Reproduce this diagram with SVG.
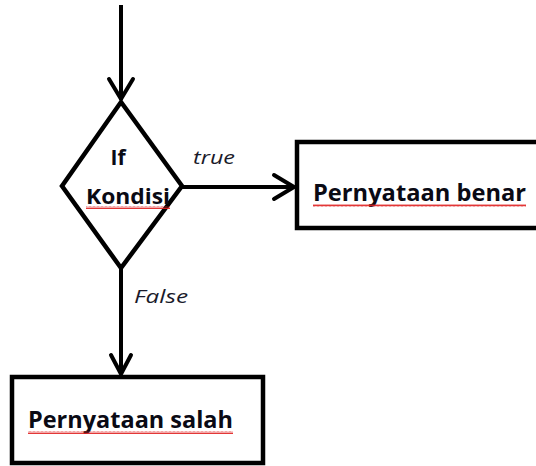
<svg xmlns="http://www.w3.org/2000/svg" width="536" height="466" viewBox="0 0 536 466">
<style>
.shape{fill:#fff;stroke:#000;stroke-width:4.5;stroke-linejoin:miter}
.line{fill:none;stroke:#000;stroke-width:4}
.head{fill:none;stroke:#000;stroke-width:4;stroke-linecap:round;stroke-linejoin:round}
.lbl{font-family:"Open Sans","Liberation Sans",sans-serif;font-weight:bold;fill:#0a0a14}
.it{font-family:"Open Sans","Liberation Sans",sans-serif;font-style:italic;fill:#1a1a2a}
</style>
<defs>
<pattern id="wv" width="4" height="3" patternUnits="userSpaceOnUse">
<path d="M0,2.5 L1,0.5 L2,2.5 L3,0.5 L4,2.5" fill="none" stroke="#e02020" stroke-width="0.9"/>
</pattern>
</defs>
<rect width="536" height="466" fill="#fff"/>
<g id="connectors">
<line class="line" x1="121" y1="5" x2="121" y2="100"/>
<polyline class="head" points="109,79 121,99 133,79"/>
<line class="line" x1="182" y1="187" x2="294" y2="187"/>
<polyline class="head" points="274,175 294,187 274,199"/>
<line class="line" x1="121" y1="269" x2="121" y2="374"/>
<polyline class="head" points="111,355 121,374 131,355"/>
<text class="it" x="193" y="164" font-size="19" textLength="42" lengthAdjust="spacingAndGlyphs">true</text>
<text class="it" x="134" y="303" font-size="19" textLength="54" lengthAdjust="spacingAndGlyphs">False</text>
</g>
<g id="decision">
<polygon class="shape" points="121,102 182,186 121,268 62,186"/>
<text class="lbl" x="118" y="165" font-size="21" text-anchor="middle">If</text>
<text class="lbl" x="86" y="204" font-size="21" textLength="84" lengthAdjust="spacingAndGlyphs">Kondisi</text>
<rect x="86" y="206" width="84" height="3" fill="url(#wv)"/>
</g>
<g id="true-box">
<rect class="shape" x="297" y="142" width="250" height="86"/>
<text class="lbl" x="313" y="201" font-size="23.5" textLength="213" lengthAdjust="spacingAndGlyphs">Pernyataan benar</text>
<rect x="313" y="204" width="213" height="3" fill="url(#wv)"/>
</g>
<g id="false-box">
<rect class="shape" x="12" y="377" width="251" height="86"/>
<text class="lbl" x="28" y="428" font-size="23.5" textLength="205" lengthAdjust="spacingAndGlyphs">Pernyataan salah</text>
<rect x="28" y="431" width="205" height="3" fill="url(#wv)"/>
</g>
</svg>
